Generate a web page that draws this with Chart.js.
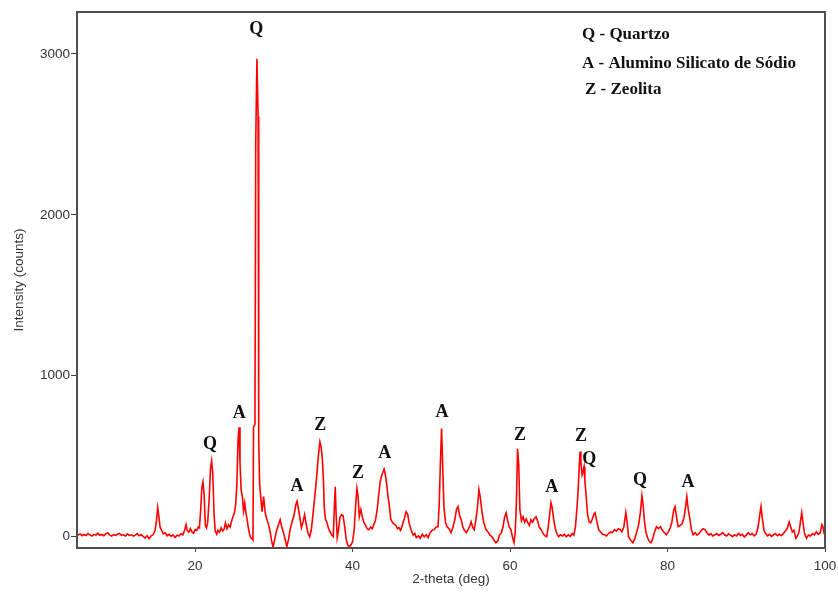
<!DOCTYPE html>
<html>
<head>
<meta charset="utf-8">
<script src="https://cdn.jsdelivr.net/npm/chart.js"></script>
<style>
  html, body { margin: 0; padding: 0; background: #fff; }
  #chart { display: block; }
</style>
</head>
<body>
<canvas id="chart" width="838" height="597"></canvas>
<script>
// XRD scan: [2-theta (deg), intensity (counts)]
const scan = [
  [5.15,10],[5.4,18],[5.65,6],[5.9,14],[6.15,8],[6.4,20],[6.65,12],[6.9,4],[7.15,15],[7.4,10],
  [7.65,22],[7.9,9],[8.15,14],[8.4,6],[8.65,18],[8.9,25],[9.15,10],[9.4,4],[9.65,13],[9.9,8],
  [10.15,16],[10.4,20],[10.65,9],[10.9,12],[11.15,5],[11.4,18],[11.65,8],[11.9,12],[12.15,4],[12.4,10],
  [12.65,20],[12.9,6],[13.15,12],[13.4,2],[13.65,-8],[13.9,6],[14.15,-12],[14.4,4],[14.65,12],[14.9,35],
  [15.1,100],[15.25,180],[15.4,125],[15.55,60],[15.75,40],[15.95,18],[16.2,25],[16.45,6],[16.7,15],[16.95,2],
  [17.2,12],[17.45,-4],[17.7,10],[17.95,4],[18.2,18],[18.45,12],[18.7,45],[18.85,75],[19.0,40],[19.2,28],
  [19.4,50],[19.6,30],[19.8,22],[20.0,45],[20.2,38],[20.4,60],[20.55,55],[20.7,160],[20.85,300],[21.0,340],
  [21.15,260],[21.3,70],[21.45,55],[21.6,90],[21.8,250],[21.95,420],[22.1,470],[22.25,390],[22.4,150],[22.55,35],
  [22.75,15],[22.9,40],[23.1,28],[23.3,55],[23.5,35],[23.7,48],[23.85,85],[24.05,50],[24.25,75],[24.45,60],
  [24.65,100],[24.85,130],[25.0,150],[25.15,200],[25.3,320],[25.45,600],[25.58,680],[25.7,460],[25.85,290],[26.0,250],
  [26.15,160],[26.3,210],[26.45,150],[26.6,110],[26.75,60],[26.9,20],[27.05,-5],[27.2,-10],[27.35,-20],[27.42,680],
  [27.6,700],[27.7,2440],[27.85,2970],[28.0,2610],[28.08,600],[28.2,320],[28.35,240],[28.5,155],[28.7,250],[28.9,150],
  [29.1,110],[29.3,80],[29.5,40],[29.7,-20],[29.9,-65],[30.1,-20],[30.3,30],[30.55,70],[30.8,106],[31.0,60],
  [31.2,30],[31.45,-20],[31.65,-62],[31.85,-20],[32.05,40],[32.3,90],[32.55,130],[32.8,200],[32.95,220],[33.1,180],
  [33.3,120],[33.5,56],[33.7,90],[33.9,137],[34.1,80],[34.35,20],[34.55,0],[34.75,40],[34.95,130],[35.2,250],
  [35.45,380],[35.65,500],[35.85,590],[36.0,560],[36.15,490],[36.3,350],[36.4,187],[36.55,110],[36.75,87],[36.95,50],
  [37.15,30],[37.35,10],[37.55,0],[37.7,200],[37.8,311],[37.9,150],[38.05,-5],[38.2,40],[38.4,120],[38.6,137],
  [38.8,130],[39.0,60],[39.2,-20],[39.4,-55],[39.6,-62],[39.8,-50],[40.0,-30],[40.2,40],[40.4,200],[40.55,300],
  [40.7,250],[40.85,124],[41.05,168],[41.25,120],[41.45,87],[41.65,70],[41.85,50],[42.05,44],[42.3,60],[42.5,50],
  [42.7,75],[42.9,100],[43.1,160],[43.3,250],[43.5,340],[43.7,380],[43.85,400],[44.0,420],[44.15,390],[44.35,320],
  [44.5,250],[44.65,199],[44.85,110],[45.05,90],[45.25,80],[45.5,70],[45.7,50],[45.9,56],[46.1,40],[46.3,70],
  [46.55,110],[46.8,155],[47.0,140],[47.2,80],[47.45,40],[47.7,10],[47.9,20],[48.1,-6],[48.35,5],[48.6,-10],
  [48.85,15],[49.1,0],[49.35,12],[49.6,-5],[49.85,25],[50.1,40],[50.35,44],[50.6,60],[50.85,62],[51.0,200],
  [51.15,450],[51.3,672],[51.45,435],[51.6,187],[51.8,90],[52.0,62],[52.25,50],[52.5,25],[52.75,60],[53.0,110],
  [53.2,170],[53.4,187],[53.6,130],[53.8,106],[54.0,60],[54.2,40],[54.45,25],[54.7,45],[54.9,70],[55.05,93],
  [55.25,60],[55.45,44],[55.65,100],[55.85,180],[56.05,292],[56.2,250],[56.45,149],[56.65,90],[56.95,44],[57.2,30],
  [57.45,10],[57.7,0],[57.95,-20],[58.2,-37],[58.45,-25],[58.65,10],[58.9,25],[59.1,60],[59.3,120],[59.5,149],
  [59.7,100],[59.9,60],[60.1,44],[60.3,0],[60.5,-37],[60.65,20],[60.8,200],[60.95,547],[61.1,450],[61.25,168],
  [61.45,100],[61.65,124],[61.85,90],[62.05,110],[62.25,87],[62.45,70],[62.65,106],[62.85,90],[63.05,110],[63.3,124],
  [63.5,100],[63.7,60],[63.95,44],[64.2,20],[64.45,5],[64.65,0],[64.85,60],[65.05,150],[65.2,211],[65.35,180],
  [65.55,106],[65.75,50],[65.95,20],[66.15,0],[66.4,12],[66.65,5],[66.9,15],[67.15,0],[67.4,12],[67.65,2],
  [67.9,20],[68.1,10],[68.3,60],[68.5,180],[68.65,292],[68.8,450],[68.9,529],[69.0,460],[69.15,385],[69.3,410],
  [69.4,435],[69.5,350],[69.65,261],[69.85,137],[70.05,90],[70.25,87],[70.45,110],[70.65,140],[70.8,149],[71.0,100],
  [71.25,44],[71.5,30],[71.75,15],[72.0,12],[72.25,5],[72.5,20],[72.75,30],[73.0,25],[73.25,44],[73.5,35],
  [73.75,50],[74.0,44],[74.2,30],[74.45,60],[74.7,149],[74.85,100],[75.05,0],[75.3,-20],[75.6,-37],[75.85,-10],
  [76.1,30],[76.35,80],[76.55,150],[76.75,255],[76.9,200],[77.05,106],[77.25,30],[77.45,-5],[77.7,-30],[77.9,-37],
  [78.1,-15],[78.35,30],[78.6,62],[78.85,50],[79.1,62],[79.35,40],[79.6,25],[79.85,12],[80.1,30],[80.35,56],
  [80.55,90],[80.8,170],[80.95,187],[81.15,120],[81.35,62],[81.6,70],[81.85,80],[82.1,120],[82.3,190],[82.45,249],
  [82.6,180],[82.85,106],[83.05,40],[83.25,12],[83.5,25],[83.75,10],[84.0,20],[84.25,35],[84.5,50],[84.75,44],
  [85.0,25],[85.25,10],[85.5,20],[85.75,5],[86.0,12],[86.25,20],[86.5,8],[86.75,15],[87.0,25],[87.25,12],
  [87.5,5],[87.75,18],[88.0,10],[88.25,0],[88.5,12],[88.75,5],[89.0,20],[89.25,8],[89.5,15],[89.75,-2],
  [90.0,10],[90.25,25],[90.5,12],[90.75,20],[91.0,5],[91.25,15],[91.5,60],[91.7,130],[91.87,187],[92.05,110],
  [92.25,40],[92.45,20],[92.7,5],[92.95,15],[93.2,2],[93.45,12],[93.7,20],[93.95,6],[94.2,15],[94.45,8],
  [94.7,18],[94.95,35],[95.2,50],[95.45,93],[95.65,60],[95.85,30],[96.05,40],[96.3,-10],[96.5,5],[96.7,30],
  [96.9,100],[97.05,149],[97.2,90],[97.4,20],[97.65,-10],[97.9,10],[98.15,5],[98.4,20],[98.65,12],[98.9,30],
  [99.15,15],[99.4,25],[99.6,75],[99.75,60],[99.9,20],[100,15]
];

const xTicks = [20, 40, 60, 80, 100];
const yTicks = [0, 1000, 2000, 3000];

// phase letters over the peaks (label centre in data units)
const peakLetters = ['Q', 'Q', 'A', 'A', 'Z', 'Z', 'A', 'A', 'Z', 'A', 'Z', 'Q', 'Q', 'A'];
const peakTheta   = [27.75, 21.9, 25.6, 32.95, 35.9, 40.7, 44.1, 51.35, 61.25, 65.3, 69.0, 70.05, 76.5, 82.6];
const peakLabelY  = [3154, 572, 765, 311, 690, 392, 516, 771, 628, 305, 622, 479, 348, 336];

const legendLines = ['Q - Quartzo', 'A - Alumino Silicato de Sódio', 'Z - Zeolita'];

const annotate = {
    id: 'annotate',
    afterDatasetsDraw(chart) {
        const ctx = chart.ctx;
        const a = chart.chartArea;
        const xs = chart.scales.x;
        const ys = chart.scales.y;
        ctx.save();
        ctx.strokeStyle = '#4f4f4f';
        ctx.lineWidth = 2;
        ctx.strokeRect(a.left, a.top, a.right - a.left, a.bottom - a.top);

        ctx.fillStyle = '#111';
        ctx.textBaseline = 'middle';
        ctx.textAlign = 'center';
        ctx.font = 'bold 18px "Liberation Serif", serif';
        peakLetters.forEach(function (l, i) {
            ctx.fillText(l, xs.getPixelForValue(peakTheta[i]), ys.getPixelForValue(peakLabelY[i]));
        });

        ctx.textAlign = 'left';
        ctx.font = 'bold 17px "Liberation Serif", serif';
        const offs = [23, 52, 78];
        legendLines.forEach(function (t, i) {
            ctx.fillText(t, a.right - 243 + (i === 2 ? 3 : 0), a.top + offs[i]);
        });
        ctx.restore();
    }
};

const axisFont = { family: '"Liberation Sans", Arial, sans-serif', size: 13.5 };
const plain = function (v) { return String(v); };

new Chart(document.getElementById('chart'), {
    type: 'line',
    data: {
        datasets: [{
            data: scan.map(function (p) { return { x: p[0], y: p[1] }; }),
            borderColor: '#ff0000',
            borderWidth: 1.6,
            pointRadius: 0,
            tension: 0,
            fill: false
        }]
    },
    options: {
        responsive: false,
        animation: false,
        layout: { padding: { top: 12, right: 13, left: 0, bottom: 0 } },
        plugins: {
            legend: { display: false },
            tooltip: { enabled: false }
        },
        scales: {
            x: {
                type: 'linear',
                min: 5,
                max: 100,
                afterBuildTicks: function (s) { s.ticks = xTicks.map(function (v) { return { value: v }; }); },
                afterFit: function (s) { s.height = 49; s.paddingLeft = 0; s.paddingRight = 0; },
                grid: { drawOnChartArea: false, tickLength: 4, color: '#444' },
                border: { display: false },
                ticks: { color: '#333', font: axisFont, padding: 6, maxRotation: 0, callback: plain },
                title: { display: true, text: '2-theta (deg)', color: '#333', font: axisFont, padding: { top: 0, bottom: 10 } }
            },
            y: {
                min: -70,
                max: 3260,
                afterBuildTicks: function (s) { s.ticks = yTicks.map(function (v) { return { value: v }; }); },
                afterFit: function (s) { s.width = 77; s.paddingTop = 0; s.paddingBottom = 0; },
                grid: { drawOnChartArea: false, tickLength: 6, color: '#444' },
                border: { display: false },
                ticks: { color: '#333', font: axisFont, padding: 1, callback: plain },
                title: { display: true, text: 'Intensity (counts)', color: '#333', font: axisFont, padding: { top: 11, bottom: 0 } }
            }
        }
    },
    plugins: [annotate]
});
</script>
</body>
</html>
